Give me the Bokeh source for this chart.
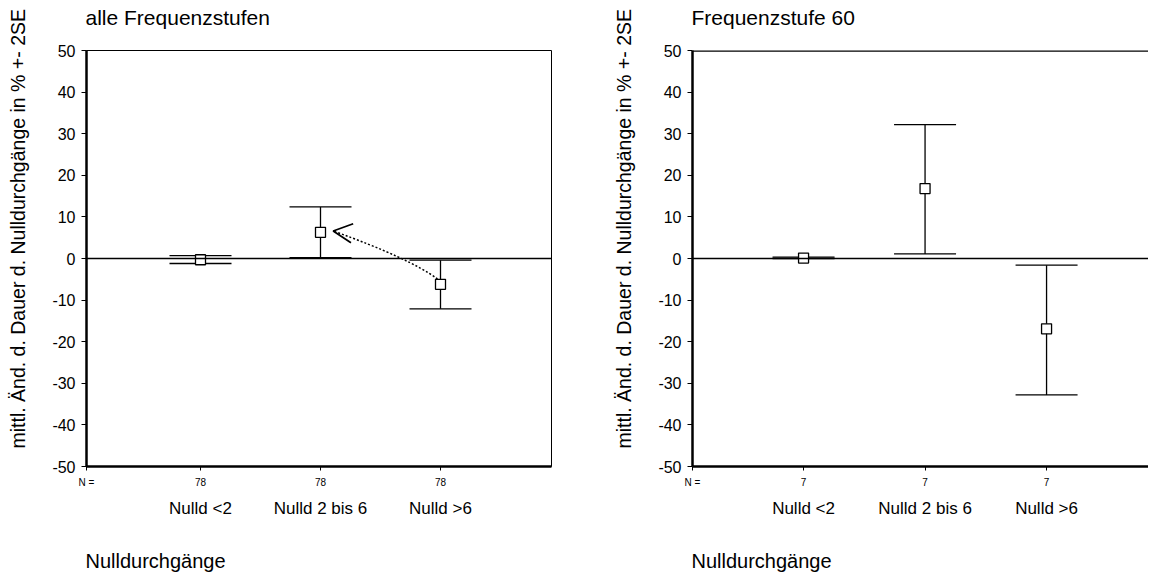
from bokeh.plotting import figure
from bokeh.layouts import row
from bokeh.models import (Span, Title, FixedTicker, Arrow, OpenHead,
                          ColumnDataSource, LinearAxis, CustomJSTickFormatter)
from bokeh.embed import file_html
from bokeh.resources import INLINE

# ---------------- data ----------------
categories = ["Nulld <2", "Nulld 2 bis 6", "Nulld >6"]
n_left = [78, 78, 78]
n_right = [7, 7, 7]
mean_left = [-0.3, 6.3, -6.2]
lower_left = [-1.2, 0.2, -12.1]
upper_left = [0.7, 12.4, -0.4]
mean_right = [0.1, 16.8, -16.9]
lower_right = [0.0, 1.1, -32.8]
upper_right = [0.35, 32.2, -1.6]
y_ticks = [-50, -40, -30, -20, -10, 0, 10, 20, 30, 40, 50]
titles = ["alle Frequenzstufen", "Frequenzstufe 60"]
y_label = "mittl. Änd. d. Dauer d. Nulldurchgänge in % +- 2SE"
x_label = "Nulldurchgänge"
n_prefix = "N ="

FONT = "Liberation Sans"
FRAME_H = 416
TOP = 50
BOTTOM = 104
Y0, Y1 = y_ticks[0], y_ticks[-1]
NBSP = "\u00a0"


def spacer(size):
    # blank panel element used only to push side texts outward
    return Title(text=NBSP, text_font=FONT, text_font_size=size, standoff=0,
                 text_color="white")


def make_panel(title, means, lowers, uppers, ns, x_start, x_end, frame_w,
               border_l, border_r, boxed, with_arrow):
    xs = list(range(1, len(categories) + 1))
    sx = frame_w / (x_end - x_start)          # px per x unit
    sy = FRAME_H / (Y1 - Y0)                  # px per y unit

    def dx(px):
        return px / sx

    def dy(px):
        return px / sy

    p = figure(x_range=(x_start, x_end), y_range=(Y0, Y1),
               frame_width=frame_w, frame_height=FRAME_H,
               min_border_left=border_l, min_border_right=border_r,
               min_border_top=TOP, min_border_bottom=BOTTOM,
               output_backend="svg", toolbar_location=None, tools="")
    p.grid.visible = False
    p.background_fill_color = "white"
    p.border_fill_color = "white"
    if boxed:
        p.outline_line_color = "black"
        p.outline_line_width = 1
    else:
        p.outline_line_color = None
        p.add_layout(Span(location=Y1, dimension="width", line_color="black",
                          line_width=2.5))

    # title (pushed up by an inner spacer)
    p.add_layout(spacer("16px"), "above")
    p.title.text = title
    p.title.align = "left"
    p.title.offset = -1
    p.title.standoff = 5
    p.title.text_font = FONT
    p.title.text_font_size = "21px"
    p.title.text_font_style = "normal"
    p.title.text_color = "black"

    # y axis
    p.yaxis.ticker = FixedTicker(ticks=y_ticks)
    p.yaxis.formatter = CustomJSTickFormatter(code="return tick.toString()")
    p.yaxis.axis_line_width = 2.5
    p.yaxis.major_tick_out = 5
    p.yaxis.major_tick_in = 0
    p.yaxis.minor_tick_line_color = None
    p.yaxis.major_label_text_font = FONT
    p.yaxis.major_label_text_font_size = "16px"
    p.yaxis.major_label_text_color = "black"
    p.yaxis.major_label_standoff = 6

    # y label as a side title (starts a little above the frame bottom)
    p.add_layout(spacer("15px"), "left")
    p.add_layout(Title(text=y_label, align="left", offset=18, standoff=4,
                       text_font=FONT, text_font_size="19.5px",
                       text_font_style="normal", text_color="black"), "left")

    # x axis A: ticks + N row
    p.xaxis.ticker = FixedTicker(ticks=[x_start] + xs)
    p.xaxis.formatter = CustomJSTickFormatter(
        args=dict(prefix=n_prefix, labels=[str(n) for n in ns], first=x_start),
        code="return tick <= first + 1e-6 ? prefix : labels[Math.round(tick) - 1];")
    p.xaxis.axis_line_width = 2.5
    p.xaxis.major_tick_out = 4
    p.xaxis.major_tick_in = 0
    p.xaxis.minor_tick_line_color = None
    p.xaxis.major_label_text_font = FONT
    p.xaxis.major_label_text_font_size = "10px"
    p.xaxis.major_label_text_color = "black"
    p.xaxis.major_label_standoff = 6

    # x axis B: category names
    ax_b = LinearAxis(ticker=FixedTicker(ticks=xs),
                      major_label_overrides={x: c for x, c in zip(xs, categories)},
                      axis_line_color=None, major_tick_line_color=None,
                      minor_tick_line_color=None, major_tick_out=0,
                      major_tick_in=0, major_label_standoff=8,
                      major_label_text_font=FONT,
                      major_label_text_font_size="17px",
                      major_label_text_color="black")
    p.add_layout(ax_b, "below")

    # x label, left aligned below
    p.add_layout(spacer("21.5px"), "below")
    p.add_layout(Title(text=x_label, align="left", offset=-1, standoff=2,
                       text_font=FONT, text_font_size="20px",
                       text_font_style="normal", text_color="black"), "below")

    # zero line
    p.add_layout(Span(location=0, dimension="width", line_color="black",
                      line_width=1.3))

    half_cap = dx(31)
    src = ColumnDataSource(dict(
        x=xs, mean=means, lower=lowers, upper=uppers,
        cl=[x - half_cap for x in xs], cr=[x + half_cap for x in xs]))
    p.segment(x0="x", y0="lower", x1="x", y1="upper", source=src,
              line_color="black", line_width=1.3)
    p.segment(x0="cl", y0="upper", x1="cr", y1="upper", source=src,
              line_color="black", line_width=1.3)
    p.segment(x0="cl", y0="lower", x1="cr", y1="lower", source=src,
              line_color="black", line_width=1.3)
    p.scatter("x", "mean", source=src, marker="square", size=10,
              fill_color="white", line_color="black", line_width=1.3)

    if with_arrow:
        x2, m2 = xs[1], means[1]
        x3, m3 = xs[2], means[2]
        tip_x, tip_y = x2 + dx(12.7), m2 + dy(1.3)
        p.quadratic(x0=[x3 - dx(3)], y0=[m3 + dy(5.3)],
                    x1=[tip_x], y1=[tip_y],
                    cx=[x3 - dx(31)], cy=[m3 + dy(26)],
                    line_color="black", line_width=1.5, line_dash="2 2")
        p.add_layout(Arrow(end=OpenHead(size=19, line_width=1.8, line_color="black"),
                           x_start=tip_x + dx(17), y_start=tip_y - dy(2),
                           x_end=tip_x, y_end=tip_y, line_alpha=0))
    return p


p1 = make_panel(titles[0], mean_left, lower_left, upper_left, n_left,
                0.05, 3.925, 465, 86, 49, True, True)
p2 = make_panel(titles[1], mean_right, lower_right, upper_right, n_right,
                0.086, 3.839, 456, 92, 0, False, False)

layout = row(p1, p2)
open("out.html", "w").write(file_html(layout, INLINE))
